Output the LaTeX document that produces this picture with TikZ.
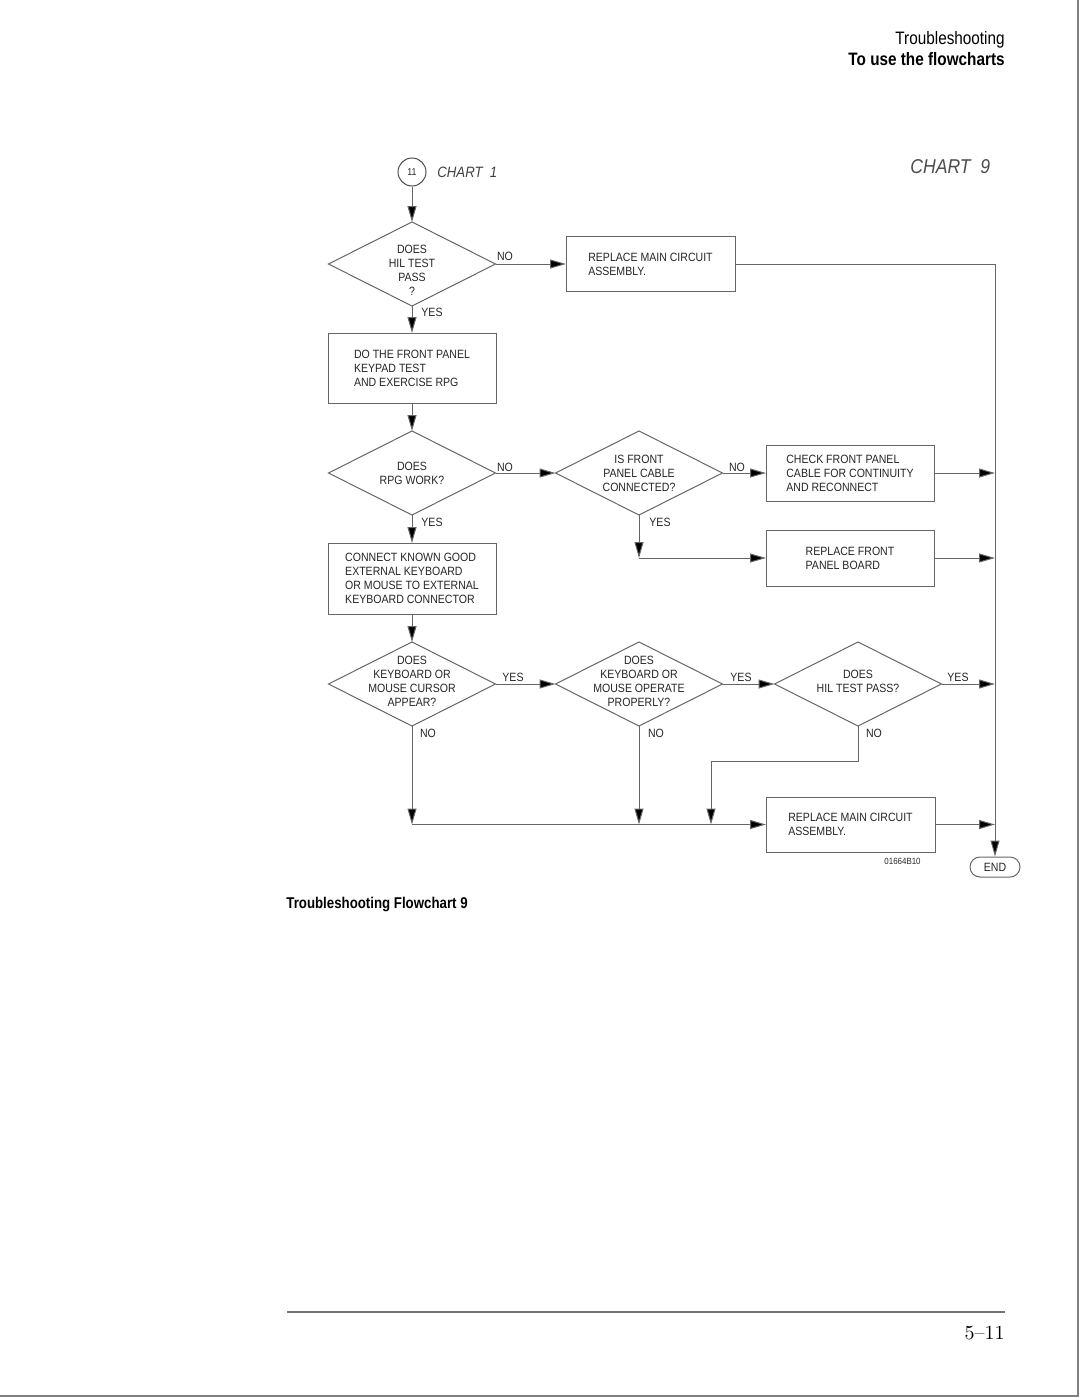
\documentclass[tikz,border=0pt]{standalone}
\usepackage{fontspec}
\usetikzlibrary{shapes.geometric,arrows.meta}
\newfontfamily\cadfont[FakeStretch=0.88]{Liberation Sans}
\newfontfamily\hdrfont[FakeStretch=0.85]{Liberation Sans}
\tikzset{
  cad/.style={font={\cadfont\fontsize{6}{7}\selectfont}, text=black!85},
  dia/.style={draw=black!60, line width=0.5pt, shape=diamond, inner sep=0pt, outer sep=0pt, minimum width=83.5pt, minimum height=42pt},
  box/.style={draw=black!60, line width=0.5pt, rectangle, inner sep=0pt, outer sep=0pt, minimum width=84pt, align=left, cad},
  diatext/.style={cad, align=center, inner sep=0pt},
  lbl/.style={cad, inner sep=0pt},
  conn/.style={draw=black!60, line width=0.5pt},
  arr/.style={conn, -{Triangle[length=8pt,width=4.5pt,fill=black]}},
}
\begin{document}
\begin{tikzpicture}[x=0.5pt,y=-0.5pt]
\useasboundingbox (0,0) rectangle (1080,1397);
% page frame
\draw[black!50, line width=1pt] (1078,0) -- (1078,1396) -- (0,1396);
% header
\node[anchor=base east, inner sep=0pt, font={\hdrfont\fontsize{9}{10}\selectfont}] (h1) at (1005,44) {Troubleshooting};
\node[anchor=base east, inner sep=0pt, font={\hdrfont\bfseries\fontsize{9}{10}\selectfont}] (h2) at (1005,65) {To use the flowcharts};
% chart labels
\node[draw=black!70, circle, line width=0.5pt, minimum size=14pt, inner sep=0pt, cad, font={\cadfont\fontsize{5}{6}\selectfont}] (c11) at (412,172) {11};
\node[anchor=west, inner sep=0pt, font={\cadfont\itshape\fontsize{7.5}{8}\selectfont}, text=black!75] (ch1) at (437,172) {CHART\ \ 1};
\node[anchor=west, inner sep=0pt, font={\cadfont\itshape\fontsize{10}{11}\selectfont}, text=black!70] (ch9) at (910,167) {CHART\ \ 9};
% diamonds
\node[dia] (d1) at (412,264) {};
\node[diatext] (t1) at (412,270) {DOES\\HIL TEST\\PASS\\?};
\node[dia] (d2) at (412,473) {};
\node[diatext] (t2) at (d2) {DOES\\RPG WORK?};
\node[dia] (d3) at (639,473) {};
\node[diatext] (t3) at (d3) {IS FRONT\\PANEL CABLE\\CONNECTED?};
\node[dia] (d4) at (412,684) {};
\node[diatext] (t4) at (412,681) {DOES\\KEYBOARD OR\\MOUSE CURSOR\\APPEAR?};
\node[dia] (d5) at (639,684) {};
\node[diatext] (t5) at (639,681) {DOES\\KEYBOARD OR\\MOUSE OPERATE\\PROPERLY?};
\node[dia] (d6) at (858,684) {};
\node[diatext] (t6) at (858,681) {DOES\\HIL TEST PASS?};
% boxes
\node[box, minimum width=84.5pt, minimum height=27.5pt] (b1) at (650.5,264) {REPLACE MAIN CIRCUIT\\ASSEMBLY.};
\node[box, minimum height=35pt] (b2) at (412,368) {DO THE FRONT PANEL\\KEYPAD TEST\\AND EXERCISE RPG};
\node[box, minimum height=28pt] (b3) at (850,473) {CHECK FRONT PANEL\\CABLE FOR CONTINUITY\\AND RECONNECT};
\node[box, minimum height=28pt] (b4) at (850,558) {REPLACE FRONT\\PANEL BOARD};
\node[box, minimum height=35.5pt] (b5) at (412,578.5) {CONNECT KNOWN GOOD\\EXTERNAL KEYBOARD\\OR MOUSE TO EXTERNAL\\KEYBOARD CONNECTOR};
\node[box, minimum width=84.5pt, minimum height=27.5pt] (b6) at (850.5,824.5) {REPLACE MAIN CIRCUIT\\ASSEMBLY.};
% end
\node[draw=black!60, line width=0.5pt, rectangle, rounded corners=5pt, minimum width=25pt, minimum height=10pt, inner sep=0pt, cad] (endn) at (995,867) {END};
\node[anchor=east, inner sep=0pt, font={\cadfont\fontsize{4.5}{5}\selectfont}, text=black!85] (code) at (921,861) {01664B10};
% labels
\node[lbl] (n1) at (505,256) {NO};
\node[lbl] (y1) at (432,312) {YES};
\node[lbl] (n2) at (505,467) {NO};
\node[lbl] (y2) at (432,522) {YES};
\node[lbl] (n3) at (737,467) {NO};
\node[lbl] (y3) at (660,522) {YES};
\node[lbl] (y4) at (513,677) {YES};
\node[lbl] (y5) at (741,677) {YES};
\node[lbl] (y6) at (958,677) {YES};
\node[lbl] (n4) at (428,733) {NO};
\node[lbl] (n5) at (656,733) {NO};
\node[lbl] (n6) at (874,733) {NO};
% connectors
\draw[arr] (c11) -- (d1.north);
\draw[arr] (d1.east) -- (b1.west);
\draw[arr] (d1.south) -- (b2.north);
\draw[arr] (b2.south) -- (d2.north);
\draw[arr] (d2.east) -- (d3.west);
\draw[arr] (d3.east) -- (b3.west);
\draw[arr] (d2.south) -- (b5.north);
\coordinate (k3) at (d3.south |- b4.west);
\draw[arr] (d3.south) -- (k3);
\draw[arr] (k3) -- (b4.west);
\draw[arr] (b5.south) -- (d4.north);
\draw[arr] (d4.east) -- (d5.west);
\draw[arr] (d5.east) -- (d6.west);
\coordinate (k4) at (d4.south |- b6.west);
\draw[arr] (d4.south) -- (k4);
\draw[arr] (k4) -- (b6.west);
\draw[arr] (d5.south) -- (d5.south |- b6.west);
\coordinate (k6) at (711,761);
\draw[arr] (d6.south) |- (k6) -- (k6 |- b6.west);
% right collector line
\draw[arr] (b1.east) -- (b1.east -| endn) -- (endn.north);
\draw[arr] (b3.east) -- (b3.east -| endn);
\draw[arr] (b4.east) -- (b4.east -| endn);
\draw[arr] (d6.east) -- (d6.east -| endn);
\draw[arr] (b6.east) -- (b6.east -| endn);
% caption
\node[anchor=base west, inner sep=0pt, font={\hdrfont\bfseries\fontsize{7.8}{9}\selectfont}] (cap) at (286,908) {Troubleshooting Flowchart 9};
% footer
\draw[black!55, line width=0.8pt] (287,1312) -- (1005,1312);
\node[anchor=base east, inner sep=0pt, font={\fontsize{10}{11}\selectfont}] (pg) at (1005,1339) {5--11};
\end{tikzpicture}
\end{document}
